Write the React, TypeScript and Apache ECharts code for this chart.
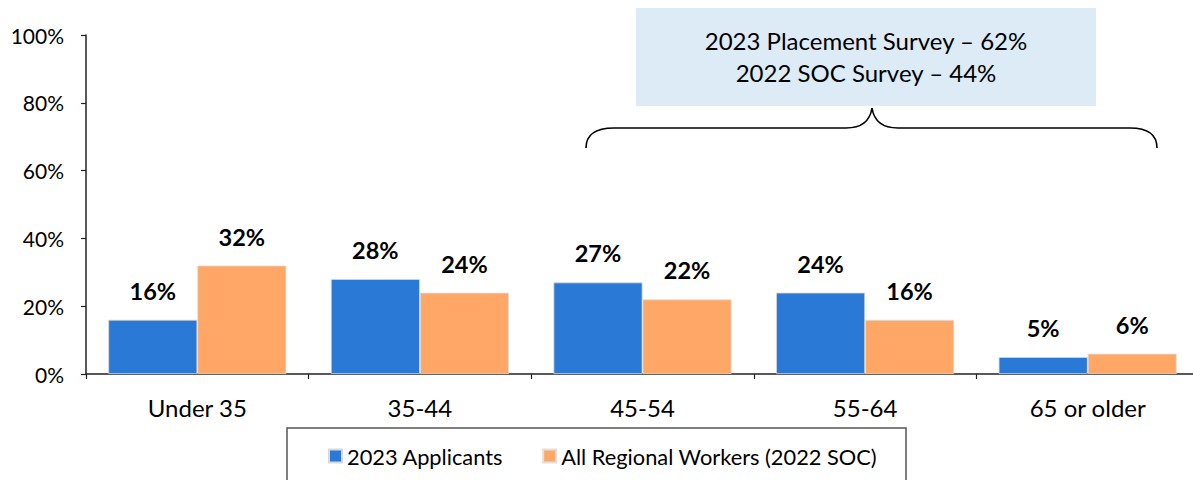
import React, { useEffect, useRef } from "react";
import * as echarts from "echarts";

const categories = ["Under 35", "35-44", "45-54", "55-64", "65 or older"];
const applicants2023 = [16, 28, 27, 24, 5];
const regionalWorkers2022 = [32, 24, 22, 16, 6];
const yTicks = [0, 20, 40, 60, 80, 100];
const seriesNames = ["2023 Applicants", "All Regional Workers (2022 SOC)"];
const noteLines = ["2023 Placement Survey \u2013 62%", "2022 SOC Survey \u2013 44%"];

const FONT = "Lato, 'Open Sans', sans-serif";
const BLUE = "#2B79D6";
const ORANGE = "#FFA767";

const braceD =
  "M586,148 C586,136 594,128 614,128 L846,128 C862,128 870,121 872,108 C874,121 882,128 898,128 L1130,128 C1150,128 1157,136 1157,148";

export default function App() {
  const ref = useRef<HTMLDivElement>(null);
  useEffect(() => {
    if (!ref.current) return;
    try {
      echarts.graphic.registerShape("brace", echarts.graphic.extendPath(braceD, {}) as any);
    } catch (e) {}
    const chart = echarts.init(ref.current, undefined, { renderer: "svg" });
    const labelStyle = {
      show: true,
      position: "top" as const,
      distance: 17,
      formatter: "{c}%",
      fontFamily: FONT,
      fontWeight: "bold" as const,
      fontSize: 23.5,
      color: "#000",
    };
    chart.setOption({
      animation: false,
      backgroundColor: "#fff",
      grid: { left: 86, top: 35, width: 1113, height: 339, containLabel: false },
      xAxis: {
        type: "category",
        data: categories,
        axisLine: { lineStyle: { color: "#222", width: 1.5 } },
        axisTick: { show: true, length: 5, lineStyle: { color: "#222", width: 1.2 } },
        axisLabel: { fontFamily: FONT, fontSize: 24, color: "#000", margin: 21 },
      },
      yAxis: {
        type: "value",
        min: yTicks[0],
        max: yTicks[yTicks.length - 1],
        interval: yTicks[1] - yTicks[0],
        axisLine: { show: true, lineStyle: { color: "#222", width: 1.5 } },
        axisTick: { show: true, length: 5, lineStyle: { color: "#222", width: 1.2 } },
        splitLine: { show: false },
        axisLabel: { formatter: "{value}%", fontFamily: FONT, fontSize: 21, color: "#000", margin: 22 },
      },
      legend: {
        left: 328,
        top: 445,
        padding: 0,
        itemWidth: 13,
        itemHeight: 13,
        itemGap: 39,
        icon: "rect",
        textStyle: { fontFamily: FONT, fontSize: 21.8, color: "#000" },
        data: seriesNames,
      },
      series: [
        {
          name: seriesNames[0],
          type: "bar",
          data: applicants2023,
          barGap: "0%",
          barCategoryGap: "20%",
          itemStyle: { color: BLUE, borderColor: "#d8d8d8", borderWidth: 0.8 },
          label: labelStyle,
        },
        {
          name: seriesNames[1],
          type: "bar",
          data: regionalWorkers2022,
          barGap: "0%",
          barCategoryGap: "20%",
          itemStyle: { color: ORANGE, borderColor: "#e0e0e0", borderWidth: 0.8 },
          label: labelStyle,
        },
      ],
      graphic: [
        {
          type: "rect",
          shape: { x: 287, y: 428, width: 619, height: 60 },
          style: { fill: "none", stroke: "#555", lineWidth: 1.5 },
          silent: true,
        },
        {
          type: "rect",
          shape: { x: 636, y: 8, width: 460, height: 98 },
          style: { fill: "#DDEBF7" },
          silent: true,
        },
        {
          type: "text",
          x: 866,
          y: 40,
          style: {
            text: noteLines[0],
            fontFamily: FONT,
            fontSize: 24,
            fill: "#000",
            align: "center",
            verticalAlign: "middle",
          },
        },
        {
          type: "text",
          x: 866,
          y: 72,
          style: {
            text: noteLines[1],
            fontFamily: FONT,
            fontSize: 24,
            fill: "#000",
            align: "center",
            verticalAlign: "middle",
          },
        },
        {
          type: "brace",
          x: 0,
          y: 0,
          style: { fill: "none", stroke: "#000", lineWidth: 1.6 },
          silent: true,
        },
      ],
    });
    return () => chart.dispose();
  }, []);
  return (
    <div
      style={{ position: "absolute", left: 0, top: 0, width: 1193, height: 480, overflow: "hidden" }}
    >
      <div ref={ref} style={{ width: 1210, height: 480 }} />
    </div>
  );
}
